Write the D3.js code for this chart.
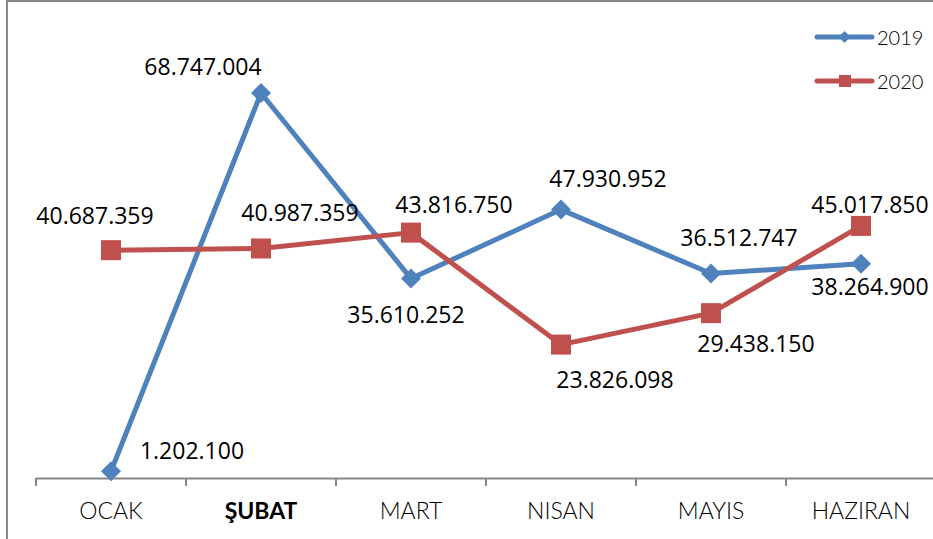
<!DOCTYPE html>
<html>
<head>
<meta charset="utf-8">
<script src="https://cdn.jsdelivr.net/npm/d3@7"></script>
<style>
  body { margin: 0; background: #fff; }
  svg { display: block; }
  .lbl { font-family: "Open Sans", sans-serif; font-size: 23px; fill: #000; }
  .cat { font-family: Lato, sans-serif; font-size: 23px; font-weight: 300; fill: #000; }
  .leg { font-family: Lato, sans-serif; font-size: 20px; font-weight: 300; fill: #000; }
</style>
</head>
<body>
<div id="chart"></div>
<script>
// data
var months = ["OCAK", "ŞUBAT", "MART", "NISAN", "MAYIS", "HAZIRAN"];
var seriesNames = ["2019", "2020"];
var values2019 = [1202100, 68747004, 35610252, 47930952, 36512747, 38264900];
var values2020 = [40687359, 40987359, 43816750, 23826098, 29438150, 45017850];
var labels2019 = ["1.202.100", "68.747.004", "35.610.252", "47.930.952", "36.512.747", "38.264.900"];
var labels2020 = ["40.687.359", "40.987.359", "43.816.750", "23.826.098", "29.438.150", "45.017.850"];

// label offsets from the point (where Excel put them)
var offsets2019 = [[81, -21], [-58, -27], [-5, 35], [47, -32], [28, -37], [9, 22]];
var offsets2020 = [[-16, -35], [39, -36], [43, -29], [54, 34], [45, 30], [9, -22]];

var W = 933, H = 539;
var colors = ["#4F81BD", "#C0504D"];

var svg = d3.select("#chart").append("svg")
    .attr("width", W).attr("height", H);

// outer chart border (cut off at right/bottom)
svg.append("rect")
    .attr("x", 7).attr("y", 1)
    .attr("width", 1000).attr("height", 1000)
    .attr("fill", "none")
    .attr("stroke", "#898989")
    .attr("stroke-width", 2);

var xScale = d3.scaleBand().domain(months).range([36, 936]);
var yScale = d3.scaleLinear().domain([0, 80000000]).range([478, 30]);

// x axis
var xAxis = d3.axisBottom(xScale).tickSize(0).tickPadding(0);
var gx = svg.append("g").attr("transform", "translate(0,478)").call(xAxis);
gx.attr("font-size", null).attr("font-family", null);
gx.select(".domain").attr("stroke", "#868686").attr("stroke-width", 2);
gx.selectAll(".tick text")
    .attr("class", "cat")
    .attr("y", 41)
    .attr("dy", 0)
    .style("font-weight", function(d){ return d === "ŞUBAT" ? "bold" : null; });
gx.selectAll(".tick line").remove();
// tick marks on band boundaries
gx.selectAll(".bound")
    .data(months.concat(["end"]))
    .enter().append("line")
    .attr("class", "bound")
    .attr("x1", function(d, i){ return 36 + i * xScale.step(); })
    .attr("x2", function(d, i){ return 36 + i * xScale.step(); })
    .attr("y1", 0).attr("y2", 8)
    .attr("stroke", "#868686").attr("stroke-width", 2);

var cx = function(i){ return xScale(months[i]) + xScale.bandwidth() / 2; };

var series = [
    {vals: values2019, labels: labels2019, off: offsets2019, marker: "diamond"},
    {vals: values2020, labels: labels2020, off: offsets2020, marker: "square"}
];

var line = d3.line()
    .x(function(d, i){ return cx(i); })
    .y(function(d){ return yScale(d); });

series.forEach(function(s, k){
    svg.append("path")
        .attr("d", line(s.vals))
        .attr("fill", "none")
        .attr("stroke", colors[k])
        .attr("stroke-width", 5)
        .attr("stroke-linejoin", "round");
});

series.forEach(function(s, k){
    var g = svg.append("g");
    if (s.marker === "diamond") {
        g.selectAll("path")
            .data(s.vals)
            .enter().append("path")
            .attr("d", "M0,-10L10,0L0,10L-10,0Z")
            .attr("transform", function(d, i){ return "translate(" + cx(i) + "," + yScale(d) + ")"; })
            .attr("fill", colors[k]);
    } else {
        g.selectAll("rect")
            .data(s.vals)
            .enter().append("rect")
            .attr("x", function(d, i){ return cx(i) - 10; })
            .attr("y", function(d){ return yScale(d) - 10; })
            .attr("width", 20).attr("height", 20)
            .attr("fill", colors[k]);
    }
});

series.forEach(function(s, k){
    svg.append("g").selectAll("text")
        .data(s.vals)
        .enter().append("text")
        .attr("class", "lbl")
        .attr("text-anchor", "middle")
        .attr("dominant-baseline", "central")
        .attr("x", function(d, i){ return cx(i) + s.off[i][0]; })
        .attr("y", function(d, i){ return yScale(d) + s.off[i][1]; })
        .text(function(d, i){ return s.labels[i]; });
});

// legend
var legY = [37, 81];
seriesNames.forEach(function(name, k){
    var g = svg.append("g").attr("transform", "translate(817," + legY[k] + ")");
    g.append("line")
        .attr("x1", 0).attr("x2", 55)
        .attr("stroke", colors[k]).attr("stroke-width", 5)
        .attr("stroke-linecap", "round");
    if (k === 0) {
        g.append("path").attr("d", "M27.5,-6L33.5,0L27.5,6L21.5,0Z").attr("fill", colors[k]);
    } else {
        g.append("rect").attr("x", 22).attr("y", -6).attr("width", 12).attr("height", 12).attr("fill", colors[k]);
    }
    g.append("text")
        .attr("class", "leg")
        .attr("x", 60)
        .attr("dominant-baseline", "central")
        .text(name);
});
</script>
</body>
</html>
